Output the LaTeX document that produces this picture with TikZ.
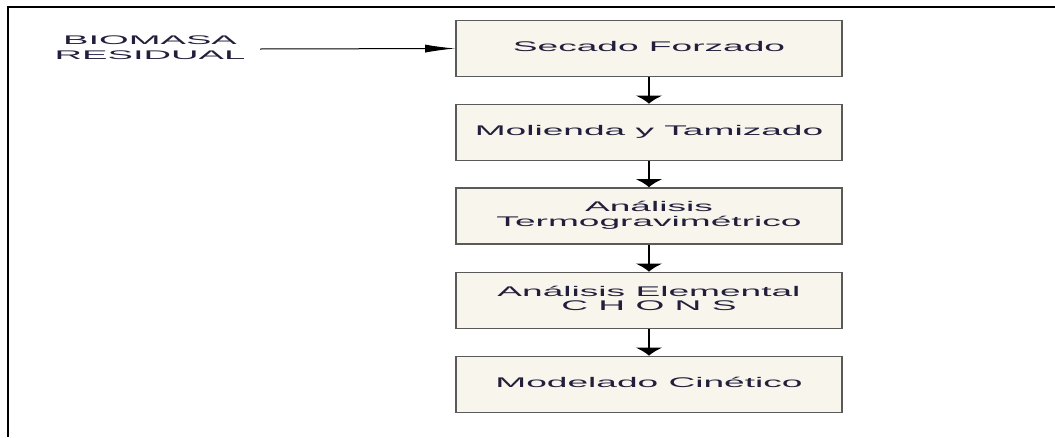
\documentclass[tikz,border=0pt]{standalone}
\usepackage{fontspec}
\setmainfont{Liberation Sans}
\usepackage{graphicx}
\usetikzlibrary{arrows.meta}
\definecolor{boxfill}{RGB}{248,245,236}
\definecolor{boxdraw}{RGB}{90,90,90}
\definecolor{txt}{RGB}{35,30,60}
\newcommand{\wtext}[1]{\scalebox{2.65}[1]{\begin{tabular}{@{}c@{}}#1\end{tabular}}}
\begin{document}
\begin{tikzpicture}[x=1pt,y=-1pt,
  stepbox/.style={draw=boxdraw, line width=1.6pt, fill=boxfill, minimum width=386pt, minimum height=56pt, inner sep=0pt, text=txt, font=\fontsize{14}{13.5}\selectfont},
  vflow/.style={line width=2pt, -{Latex[length=8pt,width=28pt]}},
  hflow/.style={line width=1pt, -{Latex[length=30pt,width=8pt]}}]
\useasboundingbox (0,0) rectangle (1055,437);
\fill[white] (0,0) rectangle (1055,437);
\draw[line width=2.5pt] (8,437) -- (8,7) -- (1055,7);
\node[stepbox] (s1) at (649,48.5) {\wtext{Secado Forzado}};
\node[stepbox] (s2) at (649,132.5) {\wtext{Molienda y Tamizado}};
\node[stepbox] (s3) at (649,216) {\wtext{Análisis\\Termogravimétrico}};
\node[stepbox] (s4) at (649,300.5) {\wtext{Análisis Elemental\\C H O N S}};
\node[stepbox] (s5) at (649,384.5) {\wtext{Modelado Cinético}};
\node[text=txt, inner sep=0pt, font=\fontsize{12.5}{15}\selectfont] (bio) at (150,49) {\scalebox{3.05}[1]{\begin{tabular}{@{}c@{}}BIOMASA\\RESIDUAL\end{tabular}}};
\coordinate (bioend) at (260,49);
\draw[hflow] (bioend) -- (s1.west);
\draw[vflow] (s1.south) -- (s2.north);
\draw[vflow] (s2.south) -- (s3.north);
\draw[vflow] (s3.south) -- (s4.north);
\draw[vflow] (s4.south) -- (s5.north);
\end{tikzpicture}
\end{document}
